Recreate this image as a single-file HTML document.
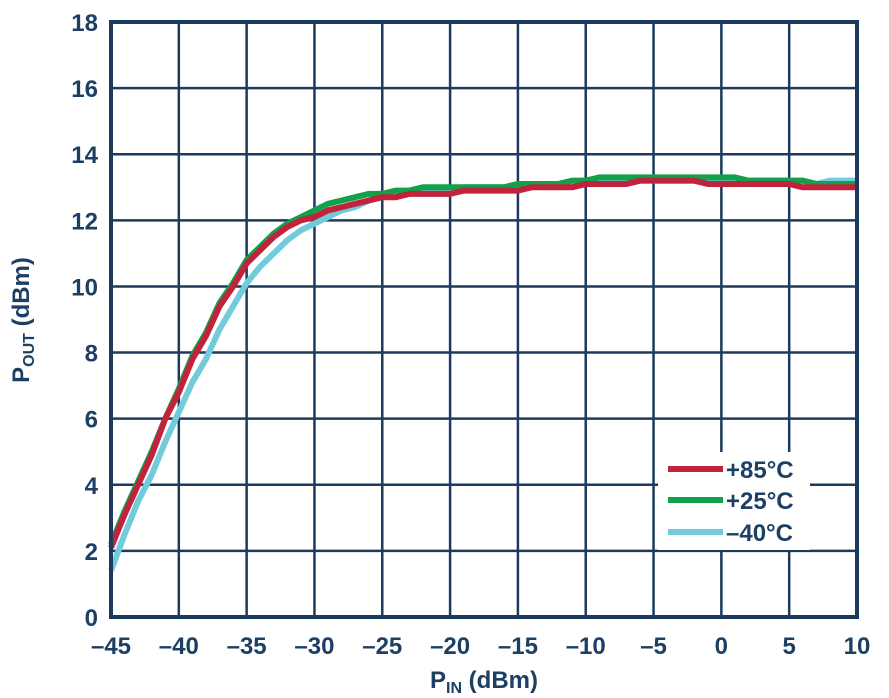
<!DOCTYPE html>
<html><head><style>
body{margin:0;background:#fff;}
svg{display:block;font-family:"Liberation Sans",Arial,sans-serif;font-weight:bold;}
</style></head><body>
<svg width="889" height="698" viewBox="0 0 889 698">
<rect width="889" height="698" fill="#fff"/>
<g id="grid" stroke="#1c3a5e" stroke-width="2.5"></g>
<g id="lines" fill="none" stroke-width="6" stroke-linejoin="round"></g>
<rect x="111" y="22" width="746" height="595" fill="none" stroke="#1c3a5e" stroke-width="4"/>
<g fill="#1d3f63" font-size="24" id="ticks"></g>
<text x="484" y="688" fill="#1d3f63" font-size="24" text-anchor="middle">P<tspan font-size="16" dy="5">IN</tspan><tspan dy="-5"> (dBm)</tspan></text>
<text transform="translate(29,320) rotate(-90)" fill="#1d3f63" font-size="24" text-anchor="middle">P<tspan font-size="16" dy="5">OUT</tspan><tspan dy="-5"> (dBm)</tspan></text>
<rect x="658" y="452" width="152" height="98" fill="#fff"/>
<line x1="668" y1="469" x2="723" y2="469" stroke="#c0243c" stroke-width="6"/>
<line x1="668" y1="500" x2="723" y2="500" stroke="#12a04a" stroke-width="6"/>
<line x1="668" y1="532" x2="723" y2="532" stroke="#72cbdb" stroke-width="6"/>
<g fill="#1d3f63" font-size="24">
<text x="726" y="478">+85°C</text>
<text x="726" y="509">+25°C</text>
<text x="726" y="541">–40°C</text>
</g>
</svg>
<script>
const X=v=>111+(v+45)*746/55, Y=v=>617-v*595/18;
const ns="http://www.w3.org/2000/svg";
const g=document.getElementById("grid"),t=document.getElementById("ticks"),L=document.getElementById("lines");
for(let v=-40;v<10;v+=5){let l=document.createElementNS(ns,"line");l.setAttribute("x1",X(v));l.setAttribute("x2",X(v));l.setAttribute("y1",22);l.setAttribute("y2",617);g.appendChild(l);}
for(let v=2;v<18;v+=2){let l=document.createElementNS(ns,"line");l.setAttribute("x1",111);l.setAttribute("x2",857);l.setAttribute("y1",Y(v));l.setAttribute("y2",Y(v));g.appendChild(l);}
for(let v=-45;v<=10;v+=5){let s=document.createElementNS(ns,"text");s.setAttribute("x",X(v));s.setAttribute("y",654);s.setAttribute("text-anchor","middle");s.textContent=v<0?"–"+(-v):v;t.appendChild(s);}
for(let v=0;v<=18;v+=2){let s=document.createElementNS(ns,"text");s.setAttribute("x",98);s.setAttribute("y",Y(v)+9);s.setAttribute("text-anchor","end");s.textContent=v;t.appendChild(s);}
const red=[2.1,3.1,4.0,4.9,6.0,6.8,7.8,8.5,9.4,10.0,10.7,11.1,11.5,11.8,12.0,12.1,12.3,12.4,12.5,12.6,12.7,12.7,12.8,12.8,12.8,12.8,12.9,12.9,12.9,12.9,12.9,13.0,13.0,13.0,13.0,13.1,13.1,13.1,13.1,13.2,13.2,13.2,13.2,13.2,13.1,13.1,13.1,13.1,13.1,13.1,13.1,13.0,13.0,13.0,13.0,13.0];
const green=[2.2,3.2,4.1,5.0,6.0,6.9,7.9,8.6,9.5,10.1,10.8,11.2,11.6,11.9,12.1,12.3,12.5,12.6,12.7,12.8,12.8,12.9,12.9,13.0,13.0,13.0,13.0,13.0,13.0,13.0,13.1,13.1,13.1,13.1,13.2,13.2,13.3,13.3,13.3,13.3,13.3,13.3,13.3,13.3,13.3,13.3,13.3,13.2,13.2,13.2,13.2,13.2,13.1,13.1,13.1,13.1];
const cyan=[1.4,2.5,3.5,4.3,5.3,6.2,7.1,7.8,8.7,9.4,10.1,10.6,11.0,11.4,11.7,11.9,12.1,12.3,12.4,12.6,12.7,12.8,12.8,12.9,12.9,12.9,13.0,13.0,13.0,13.0,13.0,13.0,13.1,13.1,13.1,13.1,13.2,13.2,13.2,13.2,13.2,13.2,13.2,13.2,13.2,13.2,13.2,13.2,13.2,13.2,13.2,13.2,13.1,13.2,13.2,13.2];
[[cyan,"#72cbdb"],[green,"#12a04a"],[red,"#c0243c"]].forEach(([d,c])=>{let p=document.createElementNS(ns,"polyline");p.setAttribute("points",d.map((v,i)=>X(-45+i)+","+Y(v)).join(" "));p.setAttribute("stroke",c);L.appendChild(p);});
</script>
</body></html>
